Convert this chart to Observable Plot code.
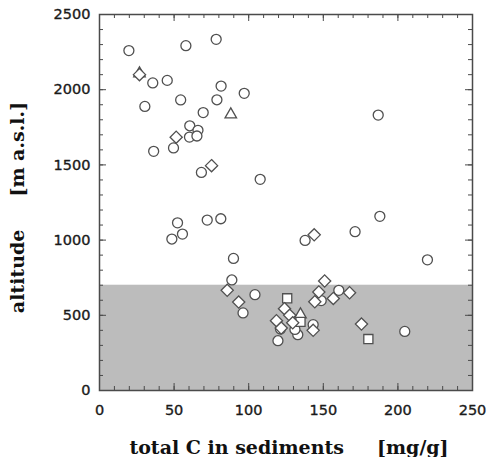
<!DOCTYPE html>
<html>
<head>
<meta charset="utf-8">
<script src="https://cdn.jsdelivr.net/npm/d3@7"></script>
<script src="https://cdn.jsdelivr.net/npm/@observablehq/plot@0.6"></script>
<style>
  html, body { margin: 0; padding: 0; background: #fff; }
  svg text { white-space: pre; }
</style>
</head>
<body>
<div id="chart"></div>
<script>
// ---- data (total C in sediments [mg/g], altitude [m a.s.l.]) ----
const circleC   = [19.7,35.7,45.4,57.9,78.2,81.5,97.0,30.4,54.4,78.7,69.5,60.5,66.0,60.3,65.3,49.6,36.3,68.3,107.7,186.8,52.3,48.5,55.6,72.2,81.3,89.8,88.7,104.2,96.2,137.8,171.3,187.9,219.8,160.4,204.6,119.6,121.3,132.9,143.2,131.0,148.6];
const circleAlt = [2260,2045,2062,2293,2335,2024,1976,1889,1932,1933,1848,1760,1730,1685,1692,1613,1590,1450,1404,1831,1115,1007,1040,1133,1142,878,735,637,516,998,1056,1158,869,666,393,331,409,371,438,406,598];

const diamondC   = [26.8,51.4,75.1,85.6,93.3,143.9,150.9,147.0,144.3,156.7,167.6,175.6,124.0,127.5,118.6,121.8,143.2,129.5];
const diamondAlt = [2100,1684,1495,666,588,1035,728,655,590,612,650,442,544,500,464,415,400,450];

const triangleC   = [88.0,26.8,134.7];
const triangleAlt = [1835,2108,505];

const squareC   = [125.8,180.2,134.7];
const squareAlt = [613,342,456];

const shadeAltitude = 700;   // shaded band: 0 – 700 m a.s.l.

const xMajor = [0,50,100,150,200,250];
const yMajor = [0,500,1000,1500,2000,2500];
const xMinor = d3.range(0, 251, 10);
const yMinor = d3.range(0, 2501, 100);

const xTitle = "total C in sediments     [mg/g]";
const yTitle = "altitude     [m a.s.l.]";

// ---- build ----
const toPts = (xs, ys) => xs.map((x, i) => ({c: x, alt: ys[i]}));
const circles = toPts(circleC, circleAlt);
const diamonds = toPts(diamondC, diamondAlt);
const triangles = toPts(triangleC, triangleAlt);
const squares = toPts(squareC, squareAlt);
const shade = [{x1: xMajor[0], x2: xMajor[xMajor.length-1], y1: 0, y2: shadeAltitude}];

const W = 490, H = 457;
const mL = 99, mR = 18, mT = 14, mB = 67;
const fw = W - mL - mR, fh = H - mT - mB;
const ink = "#4a4a4a";
const mk = {fill: "white", stroke: "#505050", strokeWidth: 1.3};
const lbl = {fontFamily: "DejaVu Sans", fontSize: 14.5, fill: "#1a1a1a", stroke: "#1a1a1a", strokeWidth: 0.35};

const chart = Plot.plot({
  width: W, height: H,
  marginLeft: mL, marginRight: mR, marginTop: mT, marginBottom: mB,
  x: {domain: [0, 250], axis: null},
  y: {domain: [0, 2500], axis: null},
  style: {fontFamily: "DejaVu Sans", fontSize: "14.5px", color: "#222", background: "white"},
  marks: [
    Plot.rect(shade, {x1: "x1", x2: "x2", y1: "y1", y2: "y2", fill: "#bcbcbc"}),
    // inward ticks, all four sides
    Plot.ruleX(xMinor, {x: d => d, insetTop: fh - 4, stroke: ink}),
    Plot.ruleX(xMajor, {x: d => d, insetTop: fh - 7, stroke: ink}),
    Plot.ruleX(xMinor, {x: d => d, insetBottom: fh - 4, stroke: ink}),
    Plot.ruleX(xMajor, {x: d => d, insetBottom: fh - 7, stroke: ink}),
    Plot.ruleY(yMinor, {y: d => d, insetRight: fw - 4, stroke: ink}),
    Plot.ruleY(yMajor, {y: d => d, insetRight: fw - 7, stroke: ink}),
    Plot.ruleY(yMinor, {y: d => d, insetLeft: fw - 4, stroke: ink}),
    Plot.ruleY(yMajor, {y: d => d, insetLeft: fw - 7, stroke: ink}),
    Plot.frame({stroke: ink, strokeWidth: 1.5}),
    // tick labels
    Plot.text(xMajor, {x: d => d, text: d => String(d), frameAnchor: "bottom", dy: 20, lineAnchor: "middle", ...lbl}),
    Plot.text(yMajor, {y: d => d, text: d => String(d), frameAnchor: "left", dx: -9, textAnchor: "end", lineAnchor: "middle", ...lbl}),
    // data
    Plot.dot(circles, {x: "c", y: "alt", symbol: "circle", r: 5, ...mk}),
    Plot.dot(triangles, {x: "c", y: "alt", symbol: "triangle2", r: 5.5, ...mk}),
    Plot.dot(squares, {x: "c", y: "alt", symbol: "square2", r: 5.8, ...mk}),
    Plot.dot(diamonds, {x: "c", y: "alt", symbol: "diamond2", r: 5.5, ...mk}),
    // axis titles
    Plot.text([xTitle], {frameAnchor: "bottom", dy: 57, dx: 3, textAnchor: "middle", lineAnchor: "middle",
      fontFamily: "DejaVu Serif", fontWeight: "bold", fontSize: 19, fill: "#111"}),
    Plot.text([yTitle], {frameAnchor: "left", dx: -82, dy: 5, rotate: -90, textAnchor: "middle", lineAnchor: "middle",
      fontFamily: "DejaVu Serif", fontWeight: "bold", fontSize: 19, fill: "#111"})
  ]
});
document.getElementById("chart").appendChild(chart);
</script>
</body>
</html>
